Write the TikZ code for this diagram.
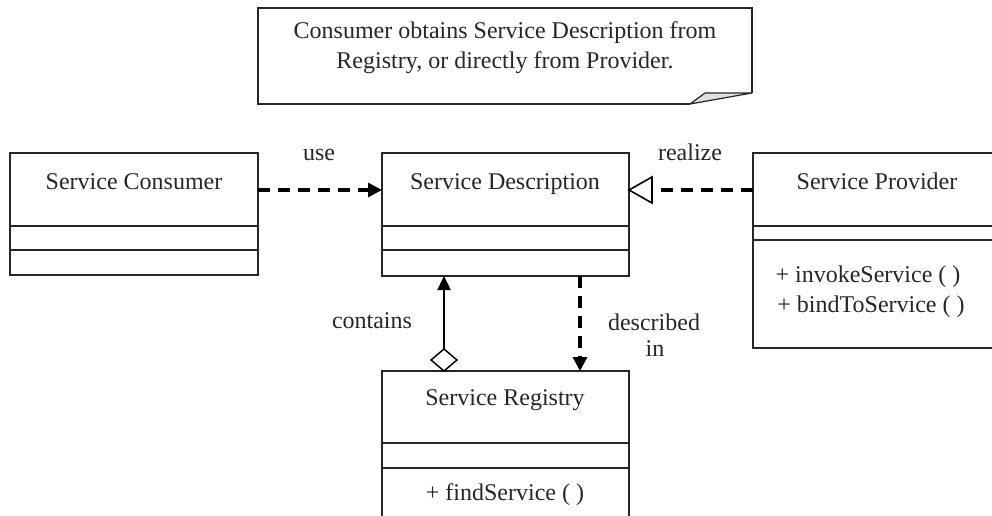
\documentclass[tikz,border=0pt]{standalone}
\usepackage{fontspec}
\setmainfont{Liberation Serif}
\usetikzlibrary{arrows.meta}
\begin{document}
\begin{tikzpicture}[x=1pt,y=-1pt,
  box/.style={draw=black!85,line width=1.6pt},
  lbl/.style={font=\fontsize{24}{28}\selectfont,text=black!85,inner sep=0pt,anchor=base},
  dep/.style={line width=3.2pt,dash pattern=on 12pt off 8pt,-{Triangle[length=14pt,width=14pt]}},
  real/.style={line width=3.2pt,dash pattern=on 12pt off 8pt},
  comp/.style={line width=2.4pt,-{Triangle[length=14pt,width=13pt]}}]
\useasboundingbox (0,0) rectangle (992,516);
\fill[white] (0,0) rectangle (992,516);

% note with folded corner
\draw[box] (690,104) -- (258,104) -- (258,8) -- (752,8) -- (752,93);
\filldraw[box,fill=black!12,line width=1.2pt] (690,104) -- (705,93) -- (752,93) -- cycle;
\node[lbl] (note1) at (505,39) {Consumer obtains Service Description from};
\node[lbl] (note2) at (505,69) {Registry, or directly from Provider.};

% Service Consumer
\draw[box] (10,153) rectangle (258,275);
\draw[box] (10,226) -- (258,226) (10,250) -- (258,250);
\node[lbl] (consumerT) at (134,189) {Service Consumer};
\coordinate (consumerR) at (258,190);

% Service Description
\draw[box] (382,153) rectangle (629,276);
\draw[box] (382,226) -- (629,226) (382,250) -- (629,250);
\node[lbl] (descT) at (505,189) {Service Description};
\coordinate (descL) at (382,190);
\coordinate (descR) at (629,190);
\coordinate (descB1) at (444,276);
\coordinate (descB2) at (580,276);

% Service Provider
\draw[box] (1000,153) -- (753,153) -- (753,348) -- (1000,348);
\draw[box] (753,226) -- (1000,226) (753,240) -- (1000,240);
\node[lbl] (provT) at (877,189) {Service Provider};
\node[lbl] (provOp1) at (868,282) {+ invokeService ( )};
\node[lbl] (provOp2) at (871,312) {+ bindToService ( )};
\coordinate (provL) at (753,190);

% Service Registry
\draw[box] (382,530) -- (382,371) -- (629,371) -- (629,530);
\draw[box] (382,443) -- (629,443) (382,468) -- (629,468);
\node[lbl] (regT) at (505,405) {Service Registry};
\node[lbl] (regOps) at (505,500) {+ findService ( )};
\coordinate (regT1) at (444,349);
\coordinate (regT2) at (580,371);

% connectors
\draw[dep] (consumerR) -- (descL);
\node[lbl] (use) at (319,160) {use};

\draw[real] (provL) -- (650,190);
\draw[line width=1.6pt,fill=white] (629,190) -- (652,177) -- (652,203) -- cycle;
\node[lbl] (realize) at (690,160) {realize};

\draw[comp] (regT1) -- (descB1);
\draw[line width=1.5pt,fill=white] (444,349) -- (457,360) -- (444,371) -- (431,360) -- cycle;
\node[lbl] (contains) at (372,328) {contains};

\draw[dep] (descB2) -- (regT2);
\node[lbl] (described) at (654,330) {described};
\node[lbl] (in) at (655,356) {in};
\end{tikzpicture}
\end{document}
